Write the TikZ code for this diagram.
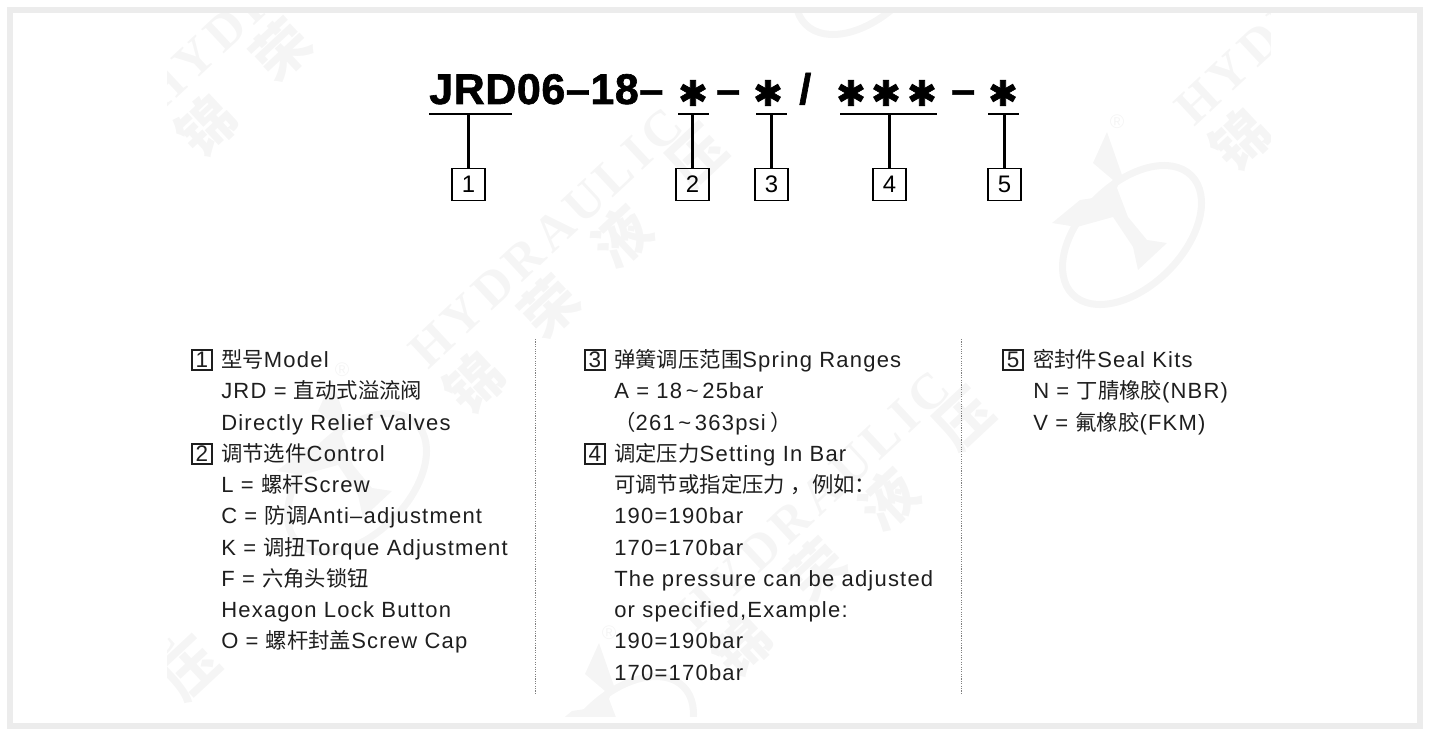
\documentclass[tikz,border=0pt]{standalone}
\usepackage{fontspec}
\usepackage{xcolor}
\setmainfont[LetterSpace=5.5]{Liberation Sans}
\newfontfamily\cjkfont[Scale=0.97]{Noto Sans CJK SC}
\newfontfamily\wmfont[LetterSpace=10]{Liberation Serif}
\newfontfamily\wmcjk{Noto Sans CJK SC}
\newfontfamily\titlefont[LetterSpace=1.5,BoldFeatures={FakeBold=1.5}]{Liberation Sans}
\newfontfamily\starfont[BoldFeatures={FakeBold=2}]{DejaVu Sans}
\newcommand{\cn}[1]{{\cjkfont #1}}
\definecolor{framegray}{HTML}{ECECEC}
\definecolor{markgray}{HTML}{F5F5F5}
\definecolor{inkgray}{HTML}{1E1E1E}
\tikzset{
  title/.style={anchor=base west, inner sep=0pt, font=\titlefont\bfseries\fontsize{30.5}{32}\selectfont},
  asterisk/.style={inner sep=0pt, font=\starfont\bfseries\fontsize{25}{28}\selectfont},
  numbox/.style={draw, line width=1.1pt, minimum width=33*0.7113pt, minimum height=32*0.7113pt, inner sep=0pt, font=\fontsize{17}{19}\selectfont},
  keybox/.style={draw=inkgray, line width=0.75pt, minimum size=20*0.7113pt, inner sep=0pt, text=inkgray, font=\fontsize{16}{18}\selectfont},
  line/.style={anchor=base west, inner sep=0pt, text=inkgray, font=\fontsize{15.65}{18}\selectfont},
  rule/.style={line width=1.5pt},
  divider/.style={gray, line width=0.7pt, dash pattern=on 0.8pt off 0.9pt},
  wmlatin/.style={rotate=43, text=markgray, font=\wmfont\bfseries\fontsize{36}{38}\selectfont},
  wmchar/.style={rotate=43, text=markgray, font=\wmcjk\bfseries\fontsize{40}{42}\selectfont}
}

\begin{document}
\begin{tikzpicture}[x=0.025cm, y=-0.025cm]
  \useasboundingbox (0, 0) rectangle (1435, 736);

  % watermark
  \begin{scope}
    \clip (167, 14) rectangle (1270, 716);
    \foreach \dx/\dy in {0/0, 267/263, -268/-257, 766/-243, -507/513} {
      \begin{scope}[shift={(\dx, \dy)}]
        \node[wmlatin] (Hyd) at (546, 238) {HYDRAULIC};
        \node[wmchar] (Jin) at (474, 383) {锦};
        \node[wmchar] (Rong) at (549, 307) {荣};
        \node[wmchar] (Ye) at (621, 237) {液};
        \node[wmchar] (Ya) at (697, 157) {压};
      \end{scope}
    }
    \foreach \cx/\cy in {1132/235, 357/483, 624/746, 865/-35, 90/221} {
      \begin{scope}[shift={(\cx, \cy)}]
        \draw[markgray, line width=5pt, rotate=45] (0, 0) ellipse [x radius=84, y radius=51];
        \fill[markgray] (-25, -103) -- (-10, -60) -- (-15, -47) -- (-4, -18) -- (15, 5) -- (35, 8)
          -- (6, 35) -- (1, 12) -- (-19, -18) -- (-55, -8) -- (-80, -12) -- (-52, -35)
          -- (-32, -38) -- (-19, -55) -- (-39, -72) -- cycle;
        \node[text=markgray, inner sep=0pt, font=\fontsize{14}{16}\selectfont] (Reg) at (-15, -113) {®};
      \end{scope}
    }
  \end{scope}

  \draw[framegray, line width=3.6pt] (10, 10) rectangle (1420, 726);

  % order code
  \node[title] (Code) at (429, 104) {JRD06–18–};
  \node[asterisk] (S1) at (693, 93) {✱};
  \node[title] (D1) at (716, 104) {–};
  \node[asterisk] (S2) at (768, 93) {✱};
  \node[title] (Sl) at (799, 104) {/};
  \node[asterisk] (S3) at (851, 93) {✱};
  \node[asterisk] (S4) at (886, 93) {✱};
  \node[asterisk] (S5) at (922, 93) {✱};
  \node[title] (D2) at (951, 104) {–};
  \node[asterisk] (S6) at (1003, 93) {✱};

  \node[numbox] (B1) at (468.5, 184.5) {1};
  \node[numbox] (B2) at (692.5, 184.5) {2};
  \node[numbox] (B3) at (771.5, 184.5) {3};
  \node[numbox] (B4) at (889.5, 184.5) {4};
  \node[numbox] (B5) at (1004.5, 184.5) {5};

  \coordinate (U1a) at (429, 114);
  \coordinate (U1b) at (512, 114);
  \coordinate (U2a) at (678, 114);
  \coordinate (U2b) at (709, 114);
  \coordinate (U3a) at (756, 114);
  \coordinate (U3b) at (787, 114);
  \coordinate (U4a) at (840, 114);
  \coordinate (U4b) at (937, 114);
  \coordinate (U5a) at (988, 114);
  \coordinate (U5b) at (1019, 114);

  \draw[rule] (U1a) -- (U1b);
  \draw[rule] (U2a) -- (U2b);
  \draw[rule] (U3a) -- (U3b);
  \draw[rule] (U4a) -- (U4b);
  \draw[rule] (U5a) -- (U5b);

  \draw[rule] (B1.north) -- (B1.north |- U1a);
  \draw[rule] (B2.north) -- (B2.north |- U2a);
  \draw[rule] (B3.north) -- (B3.north |- U3a);
  \draw[rule] (B4.north) -- (B4.north |- U4a);
  \draw[rule] (B5.north) -- (B5.north |- U5a);

  % first column
  \node[keybox] (K1) at (202, 360) {1};
  \node[line] (L1) at (221, 367) {\cn{型号}Model};
  \node[line] (L2) at (221, 398.7) {JRD = \cn{直动式溢流阀}};
  \node[line] (L3) at (221, 430) {Directly Relief Valves};
  \node[keybox] (K2) at (202, 454) {2};
  \node[line] (L4) at (221, 461.2) {\cn{调节选件}Control};
  \node[line] (L5) at (221, 492.5) {L = \cn{螺杆}Screw};
  \node[line] (L6) at (221, 523.7) {C = \cn{防调}Anti–adjustment};
  \node[line] (L7) at (221, 555) {K = \cn{调扭}Torque Adjustment};
  \node[line] (L8) at (221, 586.2) {F = \cn{六角头锁钮}};
  \node[line] (L9) at (221, 617.5) {Hexagon Lock Button};
  \node[line] (L10) at (221, 648.7) {O = \cn{螺杆封盖}Screw Cap};

  \coordinate (Da) at (535, 339);
  \coordinate (Db) at (535, 695);
  \draw[divider] (Da) -- (Db);

  % second column
  \node[keybox] (K3) at (595, 360) {3};
  \node[line] (M1) at (614, 367) {\cn{弹簧调压范围}Spring Ranges};
  \node[line] (M2) at (614, 398.7) {A = 18\,\textasciitilde\,25bar};
  \node[line] (M3) at (614, 430) {\cn{（}261\,\textasciitilde\,363psi\hspace{3pt}\cn{）}};
  \node[keybox] (K4) at (595, 454) {4};
  \node[line] (M4) at (614, 461.2) {\cn{调定压力}Setting In Bar};
  \node[line] (M5) at (614, 492.5) {\cn{可调节或指定压力}\hspace{4pt}\cn{，例如：}};
  \node[line] (M6) at (614, 523.7) {190=190bar};
  \node[line] (M7) at (614, 555) {170=170bar};
  \node[line] (M8) at (614, 586.2) {The pressure can be adjusted};
  \node[line] (M9) at (614, 617.5) {or specified,Example:};
  \node[line] (M10) at (614, 648.7) {190=190bar};
  \node[line] (M11) at (614, 680) {170=170bar};

  \coordinate (Ea) at (961.5, 339);
  \coordinate (Eb) at (961.5, 695);
  \draw[divider] (Ea) -- (Eb);

  % third column
  \node[keybox] (K5) at (1013, 360) {5};
  \node[line] (R1) at (1033, 367) {\cn{密封件}Seal Kits};
  \node[line] (R2) at (1033, 398.7) {N = \cn{丁腈橡胶}(NBR)};
  \node[line] (R3) at (1033, 430) {V = \cn{氟橡胶}(FKM)};
\end{tikzpicture}
\end{document}
